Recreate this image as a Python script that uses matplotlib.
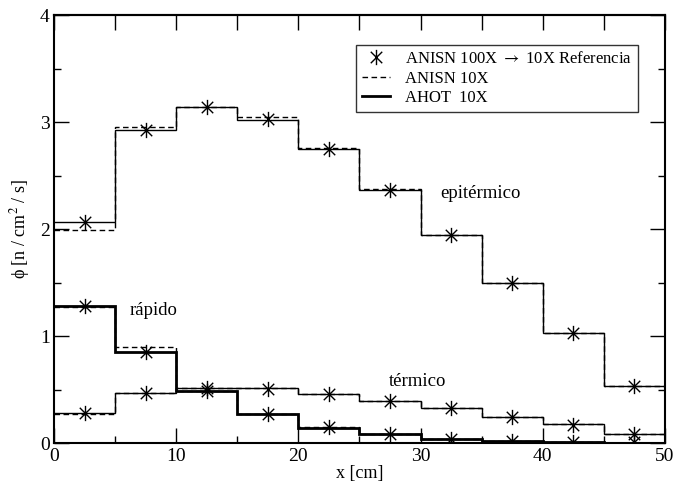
import numpy as np
import matplotlib
matplotlib.use("Agg")
import matplotlib.pyplot as plt
from matplotlib.path import Path
from matplotlib.ticker import MultipleLocator

plt.rcParams['font.family'] = ['Liberation Serif', 'DejaVu Serif']
plt.rcParams['mathtext.fontset'] = 'stix'

# bin edges [cm] and bin centres for the reference points
edges = np.arange(0, 55, 5)
centres = edges[:-1] + 2.5

# epithermal group
epi_ahot = [2.07, 2.93, 3.14, 3.02, 2.75, 2.37, 1.95, 1.50, 1.03, 0.535]
epi_anisn = [1.99, 2.96, 3.14, 3.05, 2.76, 2.38, 1.95, 1.50, 1.03, 0.535]
epi_ref = [2.07, 2.93, 3.14, 3.03, 2.75, 2.37, 1.95, 1.50, 1.03, 0.54]

# fast group
fast_ahot = [1.285, 0.85, 0.49, 0.27, 0.145, 0.085, 0.04, 0.02, 0.01, 0.005]
fast_anisn = [1.27, 0.90, 0.49, 0.27, 0.15, 0.085, 0.04, 0.02, 0.01, 0.005]
fast_ref = [1.28, 0.85, 0.49, 0.27, 0.15, 0.085, 0.045, 0.025, 0.015, 0.01]

# thermal group
th_ahot = [0.285, 0.47, 0.52, 0.515, 0.46, 0.40, 0.33, 0.25, 0.178, 0.085]
th_anisn = [0.27, 0.47, 0.52, 0.515, 0.46, 0.40, 0.33, 0.25, 0.178, 0.085]
th_ref = [0.28, 0.47, 0.52, 0.51, 0.46, 0.40, 0.33, 0.25, 0.17, 0.085]

fig = plt.figure(figsize=(6.75, 4.84), dpi=100)
ax = fig.add_axes([0.08, 0.084, 0.905, 0.884])

# asterisk: vertical bar plus an X
d = 0.75
star = Path([(0, -1), (0, 1), (-d, -d), (d, d), (-d, d), (d, -d)],
            [Path.MOVETO, Path.LINETO] * 3)
mk = dict(marker=star, ms=11, mew=1.0, color='black', ls='none')
dash = (0, (4, 2.5))

for ahot, anisn, ref, lw in [(epi_ahot, epi_anisn, epi_ref, 1.0),
                             (fast_ahot, fast_anisn, fast_ref, 2.0),
                             (th_ahot, th_anisn, th_ref, 1.0)]:
    ax.stairs(anisn, edges, baseline=None, color='black', lw=1.0, ls=dash)
    ax.stairs(ahot, edges, baseline=None, color='black', lw=lw)
    ax.plot(centres, ref, **mk)

# legend handles
h_ref, = ax.plot([], [], **mk)
h_anisn, = ax.plot([], [], color='black', lw=1.0, ls=dash)
h_ahot, = ax.plot([], [], color='black', lw=2.0)
leg = ax.legend([h_ref, h_anisn, h_ahot],
                [r'ANISN 100X $\rightarrow$ 10X Referencia', 'ANISN 10X', 'AHOT  10X'],
                loc='upper right', bbox_to_anchor=(0.956, 0.93), fontsize=12,
                frameon=True, fancybox=False, edgecolor='black', handlelength=1.7,
                handletextpad=0.9, borderpad=0.35, labelspacing=0.2, borderaxespad=0)
leg.get_frame().set_linewidth(1.0)

ax.text(6.2, 1.24, 'rápido', fontsize=13.5, va='center')
ax.text(31.6, 2.34, 'epitérmico', fontsize=13.5, va='center')
ax.text(27.4, 0.58, 'térmico', fontsize=13.5, va='center')

ax.set_xlim(0, 50)
ax.set_ylim(0, 4)
ax.xaxis.set_major_locator(MultipleLocator(10))
ax.xaxis.set_minor_locator(MultipleLocator(5))
ax.yaxis.set_major_locator(MultipleLocator(1))
ax.yaxis.set_minor_locator(MultipleLocator(0.5))
ax.tick_params(which='both', direction='in', right=True, top=False,
               labelsize=14, width=1.0, pad=3)
ax.tick_params(which='major', length=11)
ax.tick_params(which='minor', length=5)

top = ax.secondary_xaxis('top')
top.xaxis.set_major_locator(MultipleLocator(5))
top.tick_params(direction='in', length=11, width=1.0, labeltop=False)
top.spines['top'].set_linewidth(1.5)

for s in ax.spines.values():
    s.set_linewidth(1.5)

ax.set_xlabel('x [cm]', fontsize=13, labelpad=0)
ax.set_ylabel('ϕ [n / cm$^2$ / s]', fontsize=13, labelpad=6)

fig.savefig('out.png', dpi=100)
